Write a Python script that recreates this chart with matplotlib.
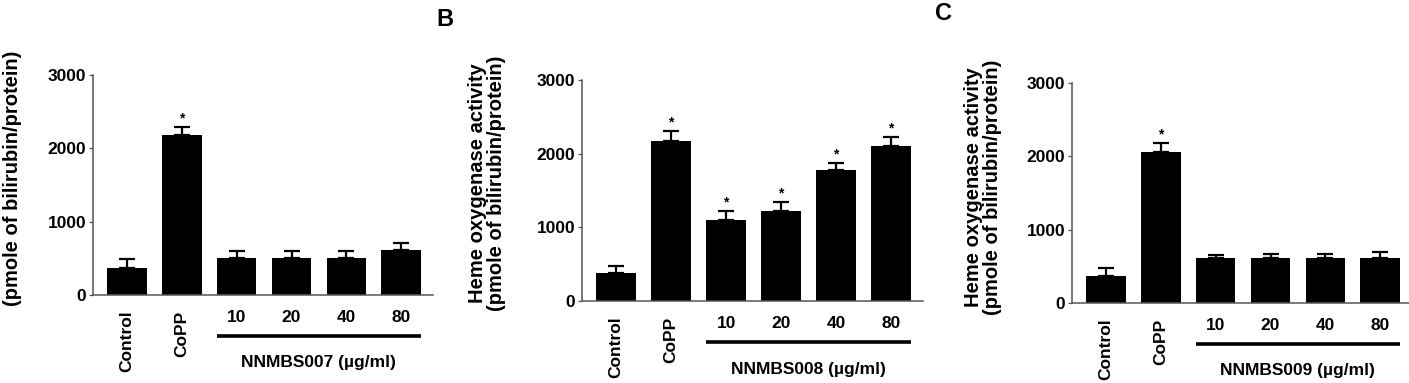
import matplotlib
matplotlib.use('Agg')
import matplotlib.pyplot as plt
import matplotlib.transforms as mtransforms

plt.rcParams['font.family'] = ['Liberation Sans', 'DejaVu Sans']

# Data (pmole of bilirubin/protein)
groups = ['Control', 'CoPP', '10', '20', '40', '80']

a_values = [370, 2180, 505, 505, 505, 610]
a_errors = [120, 110, 95, 100, 100, 100]
a_stars = [False, True, False, False, False, False]

b_values = [375, 2175, 1095, 1215, 1775, 2105]
b_errors = [105, 130, 125, 125, 105, 120]
b_stars = [False, True, True, True, True, True]

c_values = [370, 2065, 615, 615, 615, 615]
c_errors = [105, 120, 45, 60, 60, 80]
c_stars = [False, True, False, False, False, False]

compounds = ['NNMBS007', 'NNMBS008', 'NNMBS009']

W, H = 1409, 383
fig = plt.figure(figsize=(W / 100, H / 100), dpi=100)


def px_axes(left, right, bottom, top):
    # pixel box -> figure fraction
    return [left / W, (H - bottom) / H, (right - left) / W, (bottom - top) / H]


panels = [
    (px_axes(93, 433, 295, 75), a_values, a_errors, a_stars, compounds[0],
     '(pmole of bilirubin/protein)', (-0.209, 0.532)),
    (px_axes(582, 923, 301, 80), b_values, b_errors, b_stars, compounds[1],
     'Heme oxygenase activity\n(pmole of bilirubin/protein)', (-0.222, 0.534)),
    (px_axes(1072, 1412, 303, 83), c_values, c_errors, c_stars, compounds[2],
     'Heme oxygenase activity\n(pmole of bilirubin/protein)', (-0.205, 0.527)),
]

bar_w = 0.72
spine_col = '#555555'

for rect, vals, errs, stars, comp, ylab, lab_xy in panels:
    ax = fig.add_axes(rect)
    x = list(range(len(groups)))
    ax.bar(x, vals, width=bar_w, color='black', zorder=2)
    ax.errorbar(x, vals, yerr=[[0] * len(errs), errs], fmt='none',
                ecolor='black', elinewidth=1.6, capsize=5.5, capthick=1.6, zorder=3)
    for xi, v, e, s in zip(x, vals, errs, stars):
        if s:
            ax.annotate('*', (xi, v + e), xytext=(0, 1), textcoords='offset points',
                        ha='center', va='bottom', fontsize=10, fontweight='bold')

    ax.set_xlim(-0.62, 5.58)
    ax.set_ylim(0, 3000)
    ax.set_yticks([0, 1000, 2000, 3000])
    ax.spines['top'].set_visible(False)
    ax.spines['right'].set_visible(False)
    for sp in ('left', 'bottom'):
        ax.spines[sp].set_color(spine_col)
        ax.spines[sp].set_linewidth(1.1)
    ax.tick_params(axis='y', length=3, width=0.9, color=spine_col, pad=2,
                   labelsize=12.5)
    for lbl in ax.get_yticklabels():
        lbl.set_fontweight('bold')

    ax.set_xticks(x)
    ax.set_xticklabels(groups, fontsize=12.5, fontweight='bold')
    ax.tick_params(axis='x', length=0, pad=11)
    for lbl in ax.get_xticklabels()[:2]:
        lbl.set_rotation(90)

    ax.set_ylabel(ylab, fontsize=14.5, fontweight='bold', multialignment='center',
                  linespacing=1.05)
    ax.yaxis.set_label_coords(*lab_xy)

    # dose bracket under the concentration labels
    trans = mtransforms.blended_transform_factory(ax.transData, ax.transAxes)
    ax.plot([2 - bar_w / 2, 5 + bar_w / 2], [-0.186, -0.186], color='black',
            lw=2.6, transform=trans, clip_on=False, solid_capstyle='butt')
    ax.text(3.5, -0.309, comp + ' (µg/ml)', transform=trans, ha='center',
            va='center', fontsize=12.5, fontweight='bold')

fig.text(445 / W, 1 - 20 / H, 'B', ha='center', va='center', fontsize=17,
         fontweight='bold')
fig.text(944 / W, 1 - 13 / H, 'C', ha='center', va='center', fontsize=17,
         fontweight='bold')

fig.savefig('out.png', dpi=100)
